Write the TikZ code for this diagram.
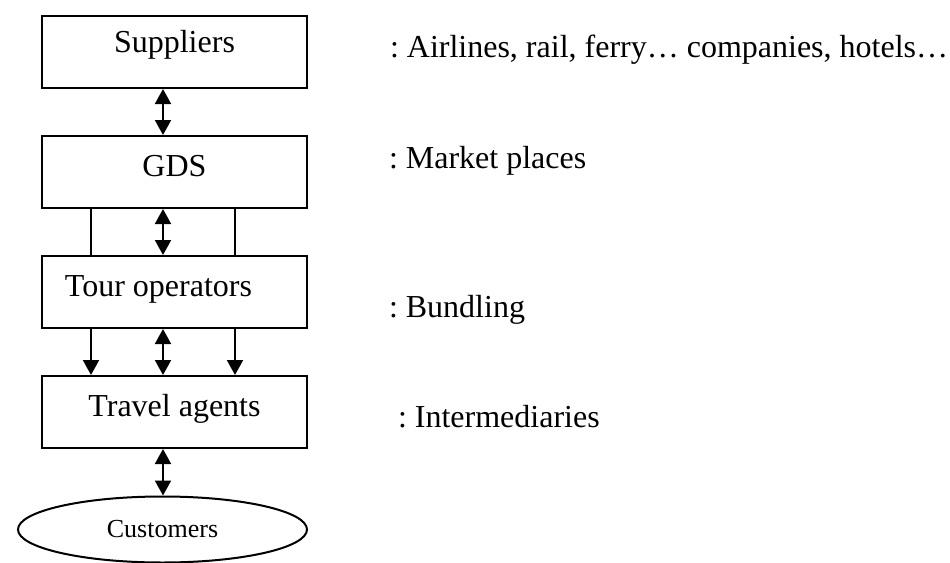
\documentclass[tikz,border=0pt]{standalone}
\usepackage{fontspec}
\setmainfont{Liberation Serif}
\usetikzlibrary{positioning,arrows.meta,shapes.geometric,calc}

\begin{document}
\begin{tikzpicture}[
x=0.5pt,y=-0.5pt,
line width=1pt,
>={Triangle[length=7.5pt,width=8pt]},
box/.style={draw,rectangle,minimum width=132.5pt,minimum height=36pt,inner sep=0pt,
	text height=0.7em,text depth=0.25em,font=\fontsize{16}{19}\selectfont},
oval/.style={draw,ellipse,minimum width=144.5pt,minimum height=33pt,inner sep=0pt,
	font=\fontsize{13}{15}\selectfont},
note/.style={anchor=base west,inner sep=0pt,font=\fontsize{16}{19}\selectfont\frenchspacing},
]
	\useasboundingbox (0,0) rectangle (950,563);
	% the chain
	\node[box] (sup) at (174.5,52) {\raisebox{2pt}{Suppliers}};
	\node[box] (gds) at (174.5,172) {GDS};
	\node[box] (tour) at (174.5,292) {Tour operators\kern16pt};
	\node[box] (agent) at (174.5,412) {Travel agents};
	\node[oval] (cust) at (162.5,529.5) {Customers};
	% axes of the connectors
	\coordinate (mid) at (163,0);
	\coordinate (left) at (91,0);
	\coordinate (right) at (235,0);
	\draw[<->] (sup.south -| mid) -- (gds.north -| mid);
	\draw (gds.south -| left) -- (tour.north -| left);
	\draw[<->] (gds.south -| mid) -- (tour.north -| mid);
	\draw (gds.south -| right) -- (tour.north -| right);
	\draw[->] (tour.south -| left) -- (agent.north -| left);
	\draw[<->] (tour.south -| mid) -- (agent.north -| mid);
	\draw[->] (tour.south -| right) -- (agent.north -| right);
	\draw[<->] (agent.south -| mid) -- (cust.north -| mid);
	% the notes
	\node[note] (supnote) at (389,57) {: Airlines, rail, ferry… companies, hotels…};
	\node[note] (gdsnote) at (388,168) {: Market places};
	\node[note] (tournote) at (388,317) {: Bundling};
	\node[note] (agentnote) at (397,427) {: Intermediaries};
\end{tikzpicture}
\end{document}
